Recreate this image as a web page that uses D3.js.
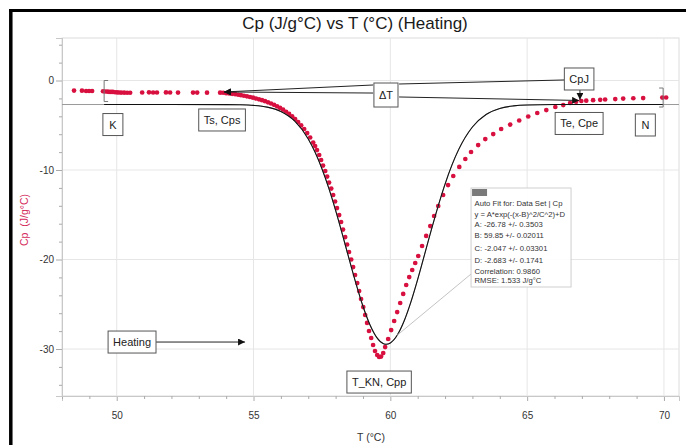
<!DOCTYPE html>
<html><head><meta charset="utf-8">
<script src="https://cdn.jsdelivr.net/npm/d3@7"></script>
<style>
body{margin:0;background:#fff;}
svg{display:block;font-family:"Liberation Sans",Arial,sans-serif;}
</style></head><body>
<svg id="c" width="686" height="445"></svg>
<script>
// ---- data ----
const tempC = [48.44,48.73,48.88,48.99,49.10,
 49.50,49.57,49.65,49.72,49.79,49.86,49.94,50.01,50.08,50.16,50.27,50.38,50.49,
 50.93,51.18,51.33,51.47,51.80,51.95,52.24,52.79,52.94,53.30,53.78,
 53.89,54.00,54.11,54.22,54.33,54.44,54.54,54.65,54.76,54.87,54.98,55.09,55.20,55.31,55.42,55.53,55.64,55.75,55.86,55.97,
 56.08,56.19,56.30,56.41,56.52,56.63,56.74,56.85,56.96,57.07,57.18,57.25,57.32,57.40,57.47,57.54,57.62,57.69,57.76,57.84,
 57.91,57.98,58.05,58.13,58.20,58.27,58.35,58.42,58.49,58.57,58.64,58.71,58.79,58.86,58.93,59.01,59.08,59.15,59.22,59.30,
 59.37,59.44,59.52,59.59,59.66,59.74,
 59.81,59.92,60.03,60.14,60.25,60.36,60.47,60.58,60.69,60.80,60.91,61.02,61.16,61.31,61.46,61.60,61.75,61.93,62.11,62.30,
 62.52,62.74,62.95,63.21,63.47,63.76,64.05,64.38,64.71,65.04,65.37,65.70,66.03,66.32,66.57,66.79,
 66.98,67.16,67.41,67.67,67.85,68.22,68.51,68.88,69.24,69.94,70.08];
const cp = [-1.12,-1.14,-1.17,-1.17,-1.17,
 -1.20,-1.23,-1.24,-1.26,-1.28,-1.28,-1.31,-1.32,-1.34,-1.35,-1.36,-1.37,-1.37,
 -1.34,-1.32,-1.34,-1.34,-1.33,-1.34,-1.35,-1.35,-1.35,-1.36,-1.36,
 -1.37,-1.41,-1.44,-1.49,-1.53,-1.59,-1.64,-1.70,-1.77,-1.84,-1.92,-2.01,-2.10,-2.20,-2.31,-2.44,-2.57,-2.72,-2.88,-3.06,
 -3.26,-3.49,-3.73,-4.00,-4.30,-4.64,-5.01,-5.42,-5.87,-6.37,-6.93,-7.32,-7.77,-8.32,-8.88,-9.50,-10.11,-10.73,-11.40,-12.07,
 -12.79,-13.52,-14.25,-15.03,-15.81,-16.65,-17.49,-18.32,-19.16,-20.00,-20.84,-21.73,-22.63,-23.52,-24.41,-25.31,-26.20,-27.09,-27.99,-28.77,
 -29.55,-30.22,-30.67,-30.89,-30.84,-30.45,
 -29.78,-28.88,-27.88,-26.87,-25.87,-24.86,-23.85,-22.85,-21.96,-21.17,-20.39,-19.61,-18.49,-17.37,-16.26,-15.14,-14.02,-12.79,-11.68,-10.67,
 -9.66,-8.77,-7.99,-7.21,-6.54,-5.98,-5.42,-4.92,-4.47,-4.02,-3.63,-3.30,-2.96,-2.74,-2.51,-2.37,
 -2.29,-2.25,-2.20,-2.16,-2.12,-2.07,-2.02,-1.98,-1.96,-1.91,-1.90];

// Gaussian fit curve (A=-26.78, B=59.85, C=-2.047, D=-2.683) tabulated
const fitT = [48,49.54,52,54,54.5,55,55.5,56,56.5,57,57.25,57.5,57.75,58,58.25,58.5,58.75,59,59.25,59.5,
 59.75,59.85,60,60.25,60.5,60.75,61,61.25,61.5,61.75,62,62.25,62.5,63,63.5,64,64.5,65,66,68,69.97,70.55];
const fitCp = [-2.683,-2.683,-2.683,-2.691,-2.712,-2.781,-2.976,-3.462,-4.522,-6.537,-8.018,-9.852,-12.032,-14.514,-17.22,-20.018,-22.747,-25.221,-27.259,-28.692,
 -29.399,-29.463,-29.319,-28.459,-26.895,-24.755,-22.214,-19.458,-16.668,-13.998,-11.569,-9.456,-7.694,-5.191,-3.797,-3.122,-2.837,-2.731,-2.686,-2.683,-2.683,-2.683];
const fitRange = [49.54, 69.97];

const xMajorTicks = [50,55,60,65,70];
const xMinorTicks = [48,49,51,52,53,54,56,57,58,59,61,62,63,64,66,67,68,69];
const yMajorTicks = [0,-10,-20,-30];
const yMinorTicks = [4,2,-2,-4,-6,-8,-12,-14,-16,-18,-22,-24,-26,-28,-32,-34];

const fitInfo = ["Auto Fit for: Data Set | Cp","y = A*exp(-(x-B)^2/C^2)+D","A: -26.78 +/- 0.3503",
 "B: 59.85 +/- 0.02011","C: -2.047 +/- 0.03301","D: -2.683 +/- 0.1741","Correlation: 0.9860","RMSE: 1.533 J/g°C"];

const annotations = [
 {label:"K", x:49.86, y:-4.92},
 {label:"Ts, Cps", x:53.85, y:-4.41},
 {label:"Te, Cpe", x:66.90, y:-4.80},
 {label:"N", x:69.32, y:-4.97},
 {label:"CpJ", x:66.90, y:0.17},
 {label:"ΔT", x:59.84, y:-1.62},
 {label:"Heating", x:50.56, y:-29.22},
 {label:"T_KN, Cpp", x:59.59, y:-33.69}
];
const pointers = [
 {from:[59.37,-0.50], to:[53.92,-1.28], arrow:true},
 {from:[59.37,-1.40], to:[53.92,-1.28], arrow:true},
 {from:[60.32,-0.39], to:[66.35,0.06], arrow:false},
 {from:[60.32,-1.84], to:[66.90,-2.23], arrow:true},
 {from:[66.93,-1.06], to:[66.93,-2.15], arrow:true},
 {from:[51.44,-29.22], to:[54.69,-29.22], arrow:true}
];
const brackets = [
 {x:49.54, y1:0, y2:-2.35, dir:1},
 {x:69.97, y1:-0.84, y2:-2.96, dir:-1}
];
const leader = {from:[60.25,-28.459], to:[62.95,-21.62]};
const fitBoxAnchor = [62.95,-12.01];

// ---- drawing ----
const svg = d3.select("#c");
const x = d3.scaleLinear().domain([48, 70.55]).range([62, 679]);
const y = d3.scaleLinear().domain([4.75, -35.25]).range([38, 396]);
const red = "#d8103f";

svg.append("rect").attr("width",686).attr("height",445).attr("fill","#fff");
// outer frame (top & left)
svg.append("line").attr("x1",9).attr("x2",686).attr("y1",10.5).attr("y2",10.5).attr("stroke","#000").attr("stroke-width",3);
svg.append("line").attr("x1",10.8).attr("x2",10.8).attr("y1",9).attr("y2",445).attr("stroke","#000").attr("stroke-width",3.5);

// title
svg.append("text").attr("x",355).attr("y",29).attr("text-anchor","middle")
  .attr("font-size",17).attr("fill","#1a1a1a").text("Cp (J/g°C) vs T (°C) (Heating)");

// plot frame
svg.append("rect").attr("x",x.range()[0]).attr("y",y.range()[0])
  .attr("width",x.range()[1]-x.range()[0]).attr("height",y.range()[1]-y.range()[0])
  .attr("fill","#fff").attr("stroke","#dcdcdc");

// grid
svg.append("g").selectAll("line").data(xMajorTicks).join("line")
  .attr("x1",d=>x(d)).attr("x2",d=>x(d)).attr("y1",y.range()[0]).attr("y2",y.range()[1])
  .attr("stroke","#e6e6e6");
svg.append("g").selectAll("line").data(yMajorTicks).join("line")
  .attr("y1",d=>y(d)).attr("y2",d=>y(d)).attr("x1",x.range()[0]).attr("x2",x.range()[1])
  .attr("stroke","#e6e6e6");

// axes
const styleAxis = g => { g.select(".domain").attr("stroke","#c8c8c8"); g.selectAll(".tick line").attr("stroke","#aaa"); g.selectAll("text").attr("fill","#333").attr("font-size",10).attr("font-family","Liberation Sans, Arial, sans-serif"); };
svg.append("g").attr("transform","translate(0,396)")
  .call(d3.axisBottom(x).tickValues(xMajorTicks).tickSize(5).tickPadding(11).tickFormat(d=>String(d)))
  .call(styleAxis);
svg.append("g").attr("transform","translate(0,396)")
  .call(d3.axisBottom(x).tickValues(xMinorTicks).tickSize(3).tickFormat(""))
  .call(styleAxis);
svg.append("g").attr("transform","translate(62,0)")
  .call(d3.axisLeft(y).tickValues(yMajorTicks).tickSize(6).tickPadding(2).tickFormat(d=>String(d)))
  .call(styleAxis);
svg.append("g").attr("transform","translate(62,0)")
  .call(d3.axisLeft(y).tickValues(yMinorTicks).tickSize(3).tickFormat(""))
  .call(styleAxis);

// axis titles
svg.append("text").attr("transform","translate(28,220) rotate(-90)").attr("text-anchor","middle")
  .attr("font-size",10.5).attr("fill","#d42a5b").style("white-space","pre").text("Cp  (J/g°C)");
svg.append("text").attr("x",371).attr("y",441).attr("text-anchor","middle")
  .attr("font-size",10.5).attr("fill","#333").text("T (°C)");

// markers
const defs = svg.append("defs");
defs.append("marker").attr("id","arr").attr("viewBox","0 0 10 10").attr("refX",10).attr("refY",5)
  .attr("markerWidth",7).attr("markerHeight",7).attr("orient","auto")
  .append("path").attr("d","M0,0L10,5L0,10z").attr("fill","#111");
defs.append("clipPath").attr("id","fitclip").append("rect")
  .attr("x",x(fitRange[0])).attr("width",x(fitRange[1])-x(fitRange[0])).attr("y",0).attr("height",445);
defs.append("clipPath").attr("id","plotclip").append("rect")
  .attr("x",x.range()[0]).attr("width",x.range()[1]-x.range()[0]).attr("y",y.range()[0]).attr("height",y.range()[1]-y.range()[0]);

// data points
const pts = tempC.map((t,i)=>({t, c:cp[i]}));
svg.append("g").selectAll("circle").data(pts).join("circle")
  .attr("cx",d=>x(d.t)).attr("cy",d=>y(d.c)).attr("r",2.35).attr("fill",red);

// fit curve
const fitPts = fitT.map((t,i)=>[t, fitCp[i]]);
const line = d3.line().x(d=>x(d[0])).y(d=>y(d[1])).curve(d3.curveMonotoneX);
svg.append("path").attr("d",line(fitPts)).attr("fill","none").attr("stroke","#9a9a9a").attr("stroke-width",1).attr("clip-path","url(#plotclip)");
svg.append("path").attr("d",line(fitPts)).attr("fill","none").attr("stroke","#111").attr("stroke-width",1.1).attr("clip-path","url(#fitclip)");

// brackets
svg.append("g").selectAll("path").data(brackets).join("path")
  .attr("d",b=>`M${x(b.x)+4*b.dir},${y(b.y1)}H${x(b.x)}V${y(b.y2)}H${x(b.x)+4*b.dir}`)
  .attr("fill","none").attr("stroke","#777");

// leader line to fit box
svg.append("line").attr("x1",x(leader.from[0])).attr("y1",y(leader.from[1]))
  .attr("x2",x(leader.to[0])).attr("y2",y(leader.to[1])).attr("stroke","#c4c4c4");

// fit info box
const fb = svg.append("g").attr("transform",`translate(${x(fitBoxAnchor[0])},${y(fitBoxAnchor[1])})`);
fb.append("rect").attr("width",100).attr("height",99).attr("fill","#fff").attr("fill-opacity",0.92).attr("stroke","#cfcfcf");
fb.append("rect").attr("x",1).attr("y",1).attr("width",15).attr("height",7).attr("fill","#7a7a7a");
const fbY = [18,28.5,38.5,50,63,75,86,94.5];
fb.selectAll("text.f").data(fitInfo).join("text").attr("class","f")
  .attr("x",3.5).attr("y",(d,i)=>fbY[i]).attr("font-size",7.7).attr("fill","#333").text(d=>d);

// pointer lines
svg.append("g").selectAll("line").data(pointers).join("line")
  .attr("x1",p=>x(p.from[0])).attr("y1",p=>y(p.from[1]))
  .attr("x2",p=>x(p.to[0])).attr("y2",p=>y(p.to[1]))
  .attr("stroke","#222").attr("stroke-width",1)
  .attr("marker-end",p=>p.arrow?"url(#arr)":null);

// annotation boxes
const ag = svg.append("g").selectAll("g").data(annotations).join("g")
  .attr("transform",a=>`translate(${x(a.x)},${y(a.y)})`);
ag.each(function(a){
  const g = d3.select(this);
  const r = g.append("rect");
  const t = g.append("text").attr("text-anchor","middle").attr("dy","0.36em")
    .attr("font-size",11).attr("fill","#222").text(a.label);
  const w = Math.max(t.node().getComputedTextLength()+10, 20);
  const h = a.label==="ΔT" ? 24 : 22;
  r.attr("x",-w/2).attr("y",-h/2).attr("width",w).attr("height",h)
   .attr("fill","#fff").attr("stroke","#555").attr("stroke-width",1);
});
</script>
</body></html>
